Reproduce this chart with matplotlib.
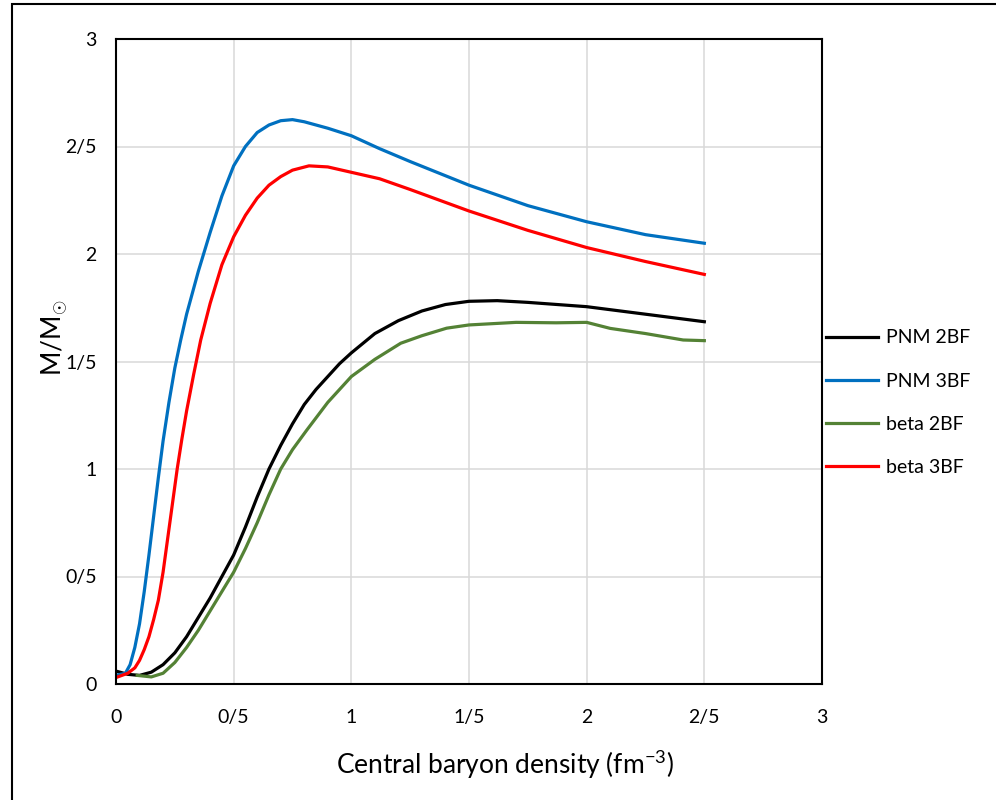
import matplotlib
matplotlib.use("Agg")
import matplotlib.pyplot as plt
from matplotlib.patches import Rectangle

plt.rcParams['font.family'] = ['Lato', 'DejaVu Sans']
plt.rcParams['mathtext.fontset'] = 'custom'
plt.rcParams['mathtext.rm'] = 'Lato'
plt.rcParams['mathtext.it'] = 'Lato'

# PNM 2BF
pnm2_x = [0, 0.05, 0.1, 0.15, 0.2, 0.25, 0.3, 0.35, 0.4, 0.45, 0.5, 0.55, 0.6, 0.65, 0.7,
          0.75, 0.8, 0.85, 0.9, 0.95, 1.0, 1.1, 1.2, 1.3, 1.4, 1.5, 1.62, 1.75, 2.0, 2.25, 2.5]
pnm2_y = [0.06, 0.045, 0.04, 0.055, 0.09, 0.145, 0.22, 0.31, 0.4, 0.5, 0.6, 0.73, 0.87, 1.0, 1.11,
          1.21, 1.30, 1.37, 1.43, 1.49, 1.54, 1.63, 1.69, 1.735, 1.765, 1.78, 1.783, 1.775, 1.755, 1.72, 1.685]
# PNM 3BF
pnm3_x = [0, 0.04, 0.06, 0.08, 0.1, 0.12, 0.14, 0.16, 0.18, 0.2, 0.225, 0.25, 0.275, 0.3, 0.35,
          0.4, 0.45, 0.5, 0.55, 0.6, 0.65, 0.7, 0.75, 0.8, 0.9, 1.0, 1.12, 1.25, 1.5, 1.75,
          2.0, 2.25, 2.5]
pnm3_y = [0.04, 0.05, 0.09, 0.17, 0.28, 0.43, 0.6, 0.78, 0.96, 1.13, 1.31, 1.47, 1.6, 1.72, 1.92,
          2.1, 2.27, 2.41, 2.5, 2.565, 2.6, 2.62, 2.625, 2.615, 2.585, 2.55, 2.49, 2.43, 2.32, 2.225,
          2.15, 2.09, 2.05]
# beta 2BF
beta2_x = [0.09, 0.15, 0.2, 0.25, 0.3, 0.35, 0.4, 0.45, 0.5, 0.55, 0.6, 0.65, 0.7, 0.75, 0.81,
           0.9, 1.0, 1.1, 1.21, 1.3, 1.405, 1.5, 1.7, 1.87, 2.0, 2.1, 2.25, 2.41, 2.5]
beta2_y = [0.04, 0.033, 0.05, 0.1, 0.17, 0.25, 0.34, 0.43, 0.52, 0.63, 0.75, 0.88, 1.0, 1.09, 1.18,
           1.31, 1.43, 1.51, 1.585, 1.62, 1.655, 1.67, 1.682, 1.68, 1.682, 1.654, 1.63, 1.60, 1.597]
# beta 3BF
beta3_x = [0, 0.05, 0.08, 0.1, 0.12, 0.14, 0.16, 0.18, 0.2, 0.22, 0.24, 0.26, 0.28, 0.3, 0.33,
           0.36, 0.4, 0.45, 0.5, 0.55, 0.6, 0.65, 0.7, 0.75, 0.82, 0.9, 1.0, 1.12, 1.25, 1.5,
           1.75, 2.0, 2.25, 2.5]
beta3_y = [0.03, 0.05, 0.075, 0.11, 0.16, 0.22, 0.3, 0.39, 0.52, 0.68, 0.84, 1.0, 1.14, 1.27, 1.44,
           1.6, 1.77, 1.95, 2.08, 2.18, 2.26, 2.32, 2.36, 2.39, 2.41, 2.405, 2.38, 2.35, 2.30, 2.20,
           2.11, 2.03, 1.965, 1.905]

ticks = [0, 0.5, 1, 1.5, 2, 2.5, 3]
tick_labels = ['0', '0/5', '1', '1/5', '2', '2/5', '3']

fig = plt.figure(figsize=(9.96, 8), dpi=100)
ax = fig.add_axes([116/996, 116/800, 706/996, 645/800])

ax.plot(pnm2_x, pnm2_y, color='black', lw=2.3, label='PNM 2BF')
ax.plot(pnm3_x, pnm3_y, color='#0070C0', lw=2.3, label='PNM 3BF')
ax.plot(beta2_x, beta2_y, color='#548235', lw=2.3, label='beta 2BF')
ax.plot(beta3_x, beta3_y, color='#FF0000', lw=2.3, label='beta 3BF')

ax.set_xlim(0, 3)
ax.set_ylim(0, 3)
ax.set_xticks(ticks)
ax.set_xticklabels(tick_labels)
ax.set_yticks(ticks)
ax.set_yticklabels(tick_labels)
ax.tick_params(length=0, labelsize=14)
ax.tick_params(axis='x', pad=18)
ax.tick_params(axis='y', pad=14)
ax.grid(True, color='#d9d9d9', lw=1.1)
ax.set_axisbelow(True)
for s in ax.spines.values():
    s.set_color('black')
    s.set_linewidth(1.5)

fig.text(505/996, 1 - 765/800, r'Central baryon density (fm$^{-3}$)',
         ha='center', va='center', fontsize=19)
fig.text(55/996, 1 - 338/800, r'M/M$_{\odot}$', rotation=90,
         ha='center', va='center', fontsize=19)

ax.legend(loc='center left', bbox_to_anchor=(1.0, 0.436), frameon=False,
          fontsize=14, handlelength=2.7, handletextpad=0.4, labelspacing=1.35,
          borderpad=0, borderaxespad=0.2)

fig.patches.append(Rectangle((12/996, -0.1), 1.2, 1.1 - 4/800, transform=fig.transFigure,
                             fill=False, edgecolor='black', lw=1.5, clip_on=False))

fig.savefig('out.png', dpi=100)
